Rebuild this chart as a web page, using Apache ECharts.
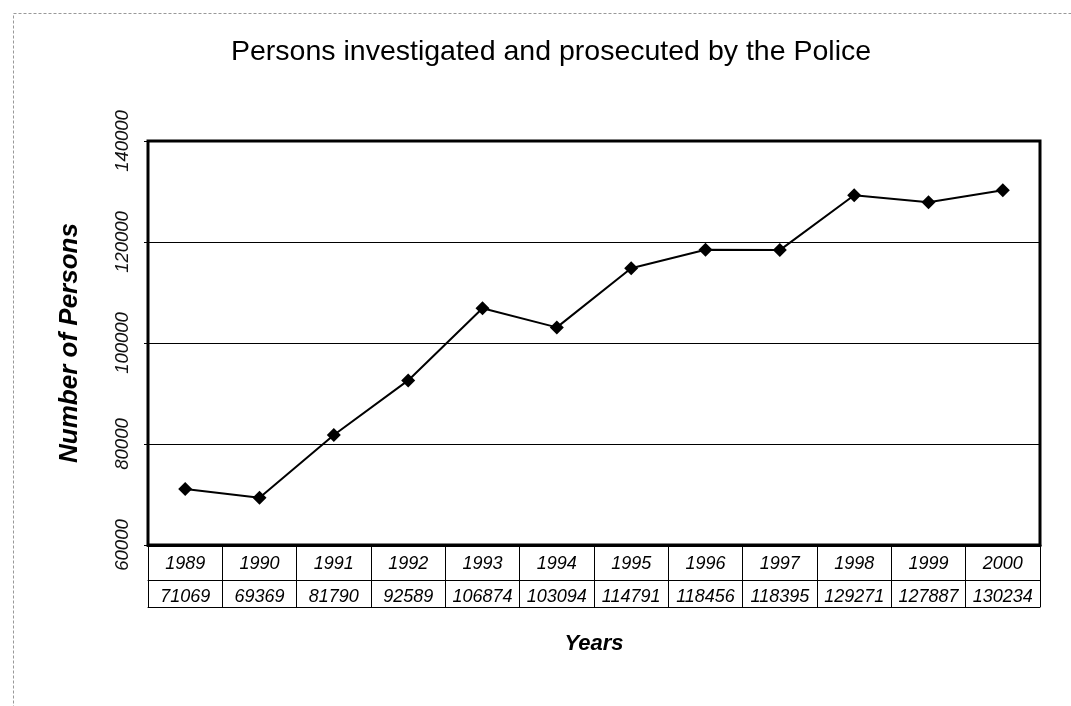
<!DOCTYPE html>
<html>
<head>
<meta charset="utf-8">
<title>Persons investigated and prosecuted by the Police</title>
<script src="https://cdn.jsdelivr.net/npm/echarts@6/dist/echarts.min.js"></script>
<style>
    html, body { margin: 0; padding: 0; background: #fff; }
    #chart { width: 1071px; height: 706px; }
</style>
</head>
<body>
<div id="chart"></div>
<script>
// data
const years = ['1989', '1990', '1991', '1992', '1993', '1994', '1995', '1996', '1997', '1998', '1999', '2000']
const persons = [71069, 69369, 81790, 92589, 106874, 103094, 114791, 118456, 118395, 129271, 127887, 130234]
const yMin = 60000
const yMax = 140000
const yStep = 20000

const font = 'Liberation Sans, Arial, sans-serif'

var chart = echarts.init(document.getElementById('chart'))
var option
option = {
    backgroundColor: '#fff',
    animation: false,
    title: {
        text: 'Persons investigated and prosecuted by the Police',
        left: 226,
        top: 33,
        textStyle: { color: '#000', fontFamily: font, fontSize: 28.5, fontWeight: 'normal' },
    },
    // dotted frame of the scanned page
    graphic: [
        {
            type: 'rect',
            left: 11,
            top: 11,
            shape: { width: 1100, height: 720 },
            style: { fill: 'none', stroke: '#999', lineWidth: 1, lineDash: [3, 2] },
            silent: true,
        },
    ],
    grid: {
        left: 148,
        right: 31,
        top: 141,
        bottom: 161,
        show: true,
        borderColor: '#000',
        borderWidth: 3,
    },
    xAxis: [
        {
            // row 1 of the table: years, ticks make the column lines
            type: 'category',
            data: years,
            position: 'bottom',
            boundaryGap: true,
            axisLine: { show: true, lineStyle: { color: '#000', width: 3 } },
            axisTick: { show: true, length: 62, lineStyle: { color: '#000', width: 1 } },
            axisLabel: {
                interval: 0,
                margin: 10,
                color: '#000',
                fontFamily: font,
                fontSize: 18,
                fontStyle: 'italic',
            },
            splitLine: { show: false },
        },
        {
            // row 2 of the table: values
            type: 'category',
            data: persons.map(v => String(v)),
            position: 'bottom',
            offset: 35,
            axisLine: { show: true, lineStyle: { color: '#000', width: 1 } },
            axisTick: { show: false },
            axisLabel: {
                interval: 0,
                margin: 8,
                color: '#000',
                fontFamily: font,
                fontSize: 18,
                fontStyle: 'italic',
            },
        },
        {
            // bottom line of the table + axis name
            type: 'category',
            data: years,
            position: 'bottom',
            offset: 62,
            name: 'Years',
            nameLocation: 'middle',
            nameGap: 26,
            nameTextStyle: { color: '#000', fontFamily: font, fontSize: 22, fontWeight: 'bold', fontStyle: 'italic' },
            axisLine: { show: true, lineStyle: { color: '#000', width: 1 } },
            axisTick: { show: false },
            axisLabel: { show: false },
        },
    ],
    yAxis: {
        type: 'value',
        min: yMin,
        max: yMax,
        interval: yStep,
        name: 'Number of Persons',
        nameLocation: 'middle',
        nameRotate: 90,
        nameGap: 65,
        nameTextStyle: { color: '#000', fontFamily: font, fontSize: 26, fontWeight: 'bold', fontStyle: 'italic' },
        axisLine: { show: false },
        axisTick: { show: true, length: 4, lineStyle: { color: '#000' } },
        axisLabel: {
            rotate: 90,
            margin: 16,
            color: '#111',
            fontFamily: font,
            fontSize: 18.5,
            fontStyle: 'italic',
            formatter: value => String(value),
        },
        splitLine: { show: true, lineStyle: { color: '#000', width: 1 } },
    },
    series: [
        {
            name: 'Persons',
            type: 'line',
            xAxisIndex: 0,
            data: persons,
            symbol: 'diamond',
            symbolSize: 14,
            itemStyle: { color: '#000' },
            lineStyle: { color: '#000', width: 2 },
        },
    ],
}
option && chart.setOption(option)
</script>
</body>
</html>
